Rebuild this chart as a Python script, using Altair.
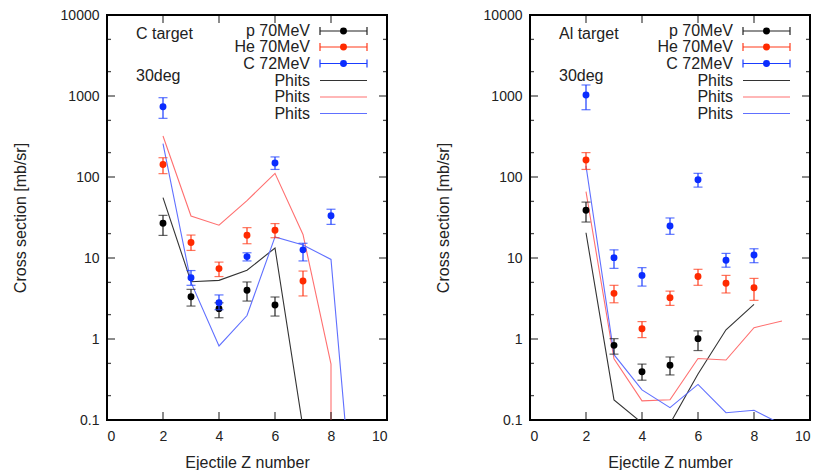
import altair as alt
import pandas as pd

# ---------------- data ----------------
# C target, 30 deg
C_P_Z = [2, 3, 4, 5, 6]
C_P_V = [26.8, 3.33, 2.37, 3.99, 2.63]
C_P_LO = [19.0, 2.55, 1.83, 2.94, 1.92]
C_P_HI = [33.6, 4.1, 2.8, 5.06, 3.3]

C_HE_Z = [2, 3, 4, 5, 6, 7]
C_HE_V = [143, 15.5, 7.4, 19.1, 22.0, 5.2]
C_HE_LO = [110, 12.4, 5.9, 15.0, 17.8, 3.4]
C_HE_HI = [173, 19.2, 8.9, 23.7, 26.6, 6.9]

C_C_Z = [2, 3, 4, 5, 6, 7, 8]
C_C_V = [738, 5.7, 2.81, 10.4, 149, 12.6, 33.2]
C_C_LO = [530, 4.6, 2.3, 9.2, 124, 9.2, 26.0]
C_C_HI = [953, 7.0, 3.5, 11.6, 177, 15.2, 40.0]

C_PH_P_Z = [2, 3, 4, 5, 6, 7]
C_PH_P_V = [55.6, 5.1, 5.3, 7.05, 13.3, 0.08]
C_PH_HE_Z = [2, 3, 4, 5, 6, 7, 8, 8]
C_PH_HE_V = [321, 33, 25.4, 51, 111, 19.5, 0.49, 0.001]
C_PH_C_Z = [2, 3, 4, 5, 6, 7, 8, 9]
C_PH_C_V = [258, 5.0, 0.82, 1.95, 18.2, 14.5, 9.6, 0.001]

# Al target, 30 deg
AL_P_Z = [2, 3, 4, 5, 6]
AL_P_V = [38.8, 0.835, 0.395, 0.473, 1.01]
AL_P_LO = [27.8, 0.65, 0.31, 0.36, 0.72]
AL_P_HI = [49.0, 1.01, 0.49, 0.6, 1.26]

AL_HE_Z = [2, 3, 4, 5, 6, 7, 8]
AL_HE_V = [162, 3.66, 1.34, 3.24, 5.9, 4.87, 4.3]
AL_HE_LO = [124, 2.8, 1.04, 2.6, 4.6, 3.7, 3.0]
AL_HE_HI = [200, 4.6, 1.64, 3.9, 7.25, 6.1, 5.6]

AL_C_Z = [2, 3, 4, 5, 6, 7, 8]
AL_C_V = [1028, 10.1, 6.1, 24.8, 92.7, 9.4, 10.9]
AL_C_LO = [677, 7.45, 4.5, 19.6, 75, 7.7, 8.75]
AL_C_HI = [1368, 12.6, 7.6, 31.2, 111, 11.4, 13.0]

AL_PH_P_Z = [2, 3, 4, 5, 6, 7, 8]
AL_PH_P_V = [20.5, 0.177, 0.092, 0.09, 0.37, 1.3, 2.68]
AL_PH_HE_Z = [2, 3, 4, 5, 6, 7, 8, 9]
AL_PH_HE_V = [66, 0.57, 0.172, 0.178, 0.575, 0.55, 1.38, 1.67]
AL_PH_C_Z = [2, 3, 4, 5, 6, 7, 8, 9]
AL_PH_C_V = [137, 0.64, 0.235, 0.142, 0.275, 0.123, 0.132, 0.088]

EXP_LABELS = ["p 70MeV", "He 70MeV", "C 72MeV"]
PHITS_LABELS = ["Phits", "Phits", "Phits"]
X_TICKS = [0, 2, 4, 6, 8, 10]
X_INNER_TICKS = [2, 4, 6, 8]
Y_MAJOR = [0.1, 1, 10, 100, 1000, 10000]
Y_MINOR = [0.2, 0.5, 2, 5, 20, 50, 200, 500, 2000, 5000]

# ---------------- style ----------------
W, H = 280, 405
FONT = "Liberation Sans"
TXT = "#222222"
EXP_COLORS = ["#000000", "#ff2a00", "#0a2cff"]
ERR_COLORS = ["#222222", "#ff3a1a", "#1a3cff"]
LINE_COLORS = ["#333333", "#ff7070", "#6070ff"]

yscale = alt.Scale(type="log", domain=[0.1, 10000], nice=False)
xscale = alt.Scale(domain=[0, 10], nice=False)
xaxis = alt.Axis(values=X_TICKS, format="d", title="Ejectile Z number", ticks=False, tickSize=0,
                 domain=False, grid=False, labelFontSize=14, titleFontSize=16,
                 labelPadding=9, titlePadding=11, labelColor=TXT, titleColor=TXT,
                 labelFont=FONT, titleFont=FONT, titleFontWeight="normal")
yaxis = alt.Axis(values=Y_MAJOR, format="~g", title="Cross section [mb/sr]", ticks=False, tickSize=0,
                 domain=False, grid=False, labelFontSize=14, titleFontSize=16,
                 labelPadding=8, titlePadding=32, labelColor=TXT, titleColor=TXT,
                 labelFont=FONT, titleFont=FONT, titleFontWeight="normal")


def X(f):
    return alt.X(f"{f}:Q", scale=xscale, axis=xaxis)


def Y(f):
    return alt.Y(f"{f}:Q", scale=yscale, axis=yaxis)


def panel(target, exp, phits):
    layers = []
    # PHITS lines
    for (zs, vs), col in zip(phits, LINE_COLORS):
        df = pd.DataFrame({"x": zs, "y": vs, "o": list(range(len(zs)))})
        layers.append(alt.Chart(df).mark_line(color=col, strokeWidth=1.1, clip=True).encode(
            x=X("x"), y=Y("y"), order="o:Q"))

    # experimental points with error bars
    for (zs, vs, lo, hi), col, ecol in zip(exp, EXP_COLORS, ERR_COLORS):
        df = pd.DataFrame({"x": zs, "y": vs, "lo": lo, "hi": hi})
        caps = pd.DataFrame({"x": zs + zs, "y": lo + hi})
        layers.append(alt.Chart(df).mark_rule(color=ecol, strokeWidth=1.2).encode(
            x=X("x"), y=Y("lo"), y2="hi"))
        layers.append(alt.Chart(caps).mark_tick(color=ecol, orient="horizontal", size=9,
                                                thickness=1.2).encode(x=X("x"), y=Y("y")))
        layers.append(alt.Chart(df).mark_circle(color=col, size=48, opacity=1).encode(
            x=X("x"), y=Y("y")))

    # inner ticks on all four sides (tick marks pointing inward)
    ymaj = pd.DataFrame({"y": Y_MAJOR})
    ymin = pd.DataFrame({"y": Y_MINOR})
    xin = pd.DataFrame({"x": X_INNER_TICKS})
    for df, ln in ((ymaj, 8), (ymin, 4)):
        for cx in (ln / 2, W - ln / 2):
            layers.append(alt.Chart(df).mark_tick(color="black", orient="horizontal",
                                                  size=ln, thickness=1.3).encode(
                y=Y("y"), x=alt.value(cx)))
    for cy in (H - 4, 4):
        layers.append(alt.Chart(xin).mark_tick(color="black", orient="vertical",
                                               size=8, thickness=1.3).encode(
            x=X("x"), y=alt.value(cy)))

    # annotations
    one = pd.DataFrame({"t": [target]})
    layers.append(alt.Chart(one).mark_text(align="left", baseline="middle", fontSize=16,
                                           font=FONT, color=TXT).encode(
        text="t:N", x=alt.value(29), y=alt.value(19)))
    deg = pd.DataFrame({"t": ["30deg"]})
    layers.append(alt.Chart(deg).mark_text(align="left", baseline="middle", fontSize=16,
                                           font=FONT, color=TXT).encode(
        text="t:N", x=alt.value(29), y=alt.value(61)))

    # legend (manual, gnuplot style: label left of sample)
    rows_y = [16, 32, 48.5, 65.5, 82, 98.5]
    labels = EXP_LABELS + PHITS_LABELS
    for i, lab in enumerate(labels):
        ry = rows_y[i]
        d = pd.DataFrame({"t": [lab]})
        layers.append(alt.Chart(d).mark_text(align="right", baseline="middle", fontSize=16,
                                             font=FONT, color=TXT).encode(
            text="t:N", x=alt.value(203), y=alt.value(ry)))
        if i < 3:
            col, ecol = EXP_COLORS[i], ERR_COLORS[i]
            layers.append(alt.Chart(d).mark_rule(color=ecol, strokeWidth=1.2).encode(
                x=alt.value(213), x2=alt.value(260), y=alt.value(ry)))
            for xx in (213, 260):
                layers.append(alt.Chart(d).mark_rule(color=ecol, strokeWidth=1.2).encode(
                    x=alt.value(xx), y=alt.value(ry - 4), y2=alt.value(ry + 4)))
            layers.append(alt.Chart(d).mark_circle(color=col, size=48, opacity=1).encode(
                x=alt.value(236.5), y=alt.value(ry)))
        else:
            layers.append(alt.Chart(d).mark_rule(color=LINE_COLORS[i - 3], strokeWidth=1.2).encode(
                x=alt.value(213), x2=alt.value(260), y=alt.value(ry)))

    return alt.layer(*layers).properties(width=W, height=H)


left = panel(
    "C target",
    [(C_P_Z, C_P_V, C_P_LO, C_P_HI), (C_HE_Z, C_HE_V, C_HE_LO, C_HE_HI),
     (C_C_Z, C_C_V, C_C_LO, C_C_HI)],
    [(C_PH_P_Z, C_PH_P_V), (C_PH_HE_Z, C_PH_HE_V), (C_PH_C_Z, C_PH_C_V)],
)
right = panel(
    "Al target",
    [(AL_P_Z, AL_P_V, AL_P_LO, AL_P_HI), (AL_HE_Z, AL_HE_V, AL_HE_LO, AL_HE_HI),
     (AL_C_Z, AL_C_V, AL_C_LO, AL_C_HI)],
    [(AL_PH_P_Z, AL_PH_P_V), (AL_PH_HE_Z, AL_PH_HE_V), (AL_PH_C_Z, AL_PH_C_V)],
)

chart = alt.hconcat(left, right, spacing=46).properties(
    padding={"left": 11, "top": 7, "right": 0, "bottom": 0},
    background="white",
).configure_view(stroke="black", strokeWidth=2)

chart.save("out.html", embed_options={"renderer": "svg", "actions": False})
